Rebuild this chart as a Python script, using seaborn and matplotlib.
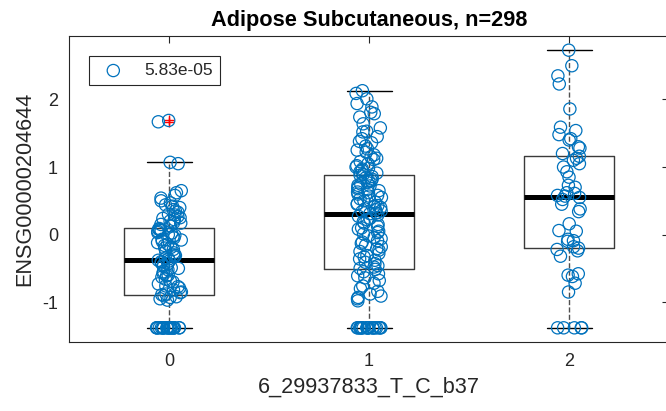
import numpy as np
import pandas as pd
import matplotlib
matplotlib.use('Agg')
import matplotlib.pyplot as plt
import seaborn as sns

# genotype groups and expression values
genotypes = ['0', '1', '2']

expr_0 = ([-1.38] * 22 +
          [-0.97, -0.95, -0.93, -0.92, -0.905,
           -0.89, -0.88, -0.86, -0.85, -0.82, -0.79, -0.77, -0.76, -0.73,
           -0.70, -0.69, -0.66, -0.63, -0.61, -0.60, -0.57, -0.55, -0.52,
           -0.50, -0.49, -0.47, -0.45, -0.43, -0.42, -0.40, -0.39, -0.38,
           -0.36, -0.35, -0.33, -0.31, -0.30, -0.27, -0.25, -0.22, -0.20,
           -0.19, -0.16, -0.14, -0.12, -0.10, -0.08, -0.07, -0.05, -0.03,
           -0.01, 0.00, 0.02, 0.03, 0.05, 0.06, 0.07, 0.08, 0.09,
           0.13, 0.15, 0.17, 0.18, 0.20, 0.22, 0.24, 0.25, 0.27, 0.29,
           0.30, 0.33, 0.35, 0.37, 0.40, 0.42, 0.44, 0.47, 0.50, 0.54,
           0.58, 0.62, 0.65, 1.05, 1.07, 1.67, 1.69])

expr_1 = ([-1.38] * 20 +
          [-0.98, -0.95, -0.93, -0.91, -0.88, -0.84, -0.80, -0.76, -0.72,
           -0.68, -0.64, -0.61, -0.58, -0.55, -0.515,
           -0.50, -0.48, -0.46, -0.43, -0.41, -0.38, -0.36, -0.33, -0.31,
           -0.28, -0.25, -0.23, -0.21, -0.18, -0.16, -0.13, -0.11, -0.09,
           -0.06, -0.04, -0.02, 0.01, 0.03, 0.05, 0.08, 0.10, 0.12, 0.15,
           0.17, 0.19, 0.22, 0.24, 0.27, 0.29,
           0.31, 0.32, 0.34, 0.35, 0.37, 0.38, 0.40, 0.42, 0.43, 0.45,
           0.46, 0.48, 0.50, 0.51, 0.53, 0.55, 0.57, 0.58, 0.60, 0.62,
           0.63, 0.65, 0.67, 0.68, 0.70, 0.72, 0.73, 0.75, 0.77, 0.79,
           0.80, 0.82, 0.84, 0.86,
           0.88, 0.89, 0.91, 0.93, 0.95, 0.97, 0.98, 1.00, 1.02, 1.05,
           1.08, 1.11, 1.13, 1.15, 1.18, 1.22, 1.25, 1.27, 1.31, 1.36,
           1.38, 1.42, 1.45, 1.52, 1.53, 1.58, 1.64, 1.74, 1.79, 1.81,
           1.89, 1.94, 2.01, 2.09, 2.13])

expr_2 = ([-1.38] * 5 +
          [-0.85, -0.72, -0.62, -0.60, -0.58, -0.32, -0.24, -0.22, -0.20,
           -0.18, -0.10, -0.09, -0.07, 0.05, 0.06, 0.16, 0.34, 0.38, 0.45,
           0.52, 0.55, 0.57, 0.58, 0.61, 0.62, 0.70, 0.73, 0.85, 0.93,
           1.00, 1.05, 1.10, 1.13, 1.16, 1.20, 1.28, 1.30, 1.40, 1.42,
           1.48, 1.54, 1.59, 1.86, 2.23, 2.35, 2.50, 2.73])

pval_label = '5.83e-05'
title = 'Adipose Subcutaneous, n=298'
xlabel = '6_29937833_T_C_b37'
ylabel = 'ENSG00000204644'

df = pd.DataFrame({
    'genotype': [g for g, vals in zip(genotypes, [expr_0, expr_1, expr_2]) for _ in vals],
    'expression': expr_0 + expr_1 + expr_2,
})

sns.set_style('white')
plt.rcParams['font.family'] = ['Liberation Sans', 'DejaVu Sans']
plt.rcParams['axes.unicode_minus'] = False

fig = plt.figure(figsize=(6.66, 4.11), dpi=100)
ax = fig.add_axes([69 / 666, 69 / 411, 600 / 666, 306 / 411])

dark = '#262626'
sns.boxplot(data=df, x='genotype', y='expression', order=genotypes, ax=ax,
            width=0.45, fill=False, color='#3a3a3a', linewidth=1,
            boxprops=dict(color='#3a3a3a'),
            whiskerprops=dict(linestyle='--', color='#505050'),
            capprops=dict(color='black'),
            medianprops=dict(color='black', linewidth=3.6),
            flierprops=dict(marker='+', markeredgecolor='red', markersize=7,
                            markeredgewidth=1))

np.random.seed(3)
sns.stripplot(data=df, x='genotype', y='expression', order=genotypes, ax=ax,
              jitter=0.065, size=8.8, color='#0072BD', facecolor='none',
              edgecolor='#0072BD', linewidth=0.9)

ax.set_xlim(-0.5, 2.5)
ax.set_ylim(-1.59, 2.94)
ax.set_yticks([-1, 0, 1, 2])
ax.set_title(title, fontsize=15.7, fontweight='bold', color='black', pad=7)
ax.set_xlabel(xlabel, fontsize=15.6, color=dark, labelpad=5)
ax.set_ylabel(ylabel, fontsize=15.6, color=dark, labelpad=5)
ax.tick_params(direction='in', length=5, width=0.8, top=True, right=True,
               colors=dark, labelsize=13, pad=8)
for s in ax.spines.values():
    s.set_visible(True)
    s.set_color(dark)
    s.set_linewidth(0.8)

leg = ax.legend([ax.collections[0]], [pval_label], loc='upper left',
                bbox_to_anchor=(20 / 600, 1 - 20 / 306), borderaxespad=0,
                fancybox=False, framealpha=1, edgecolor=dark, fontsize=12.5,
                handlelength=2, handletextpad=0.8, borderpad=0.4)
leg.get_frame().set_linewidth(0.8)

fig.savefig('out.png', dpi=100)
